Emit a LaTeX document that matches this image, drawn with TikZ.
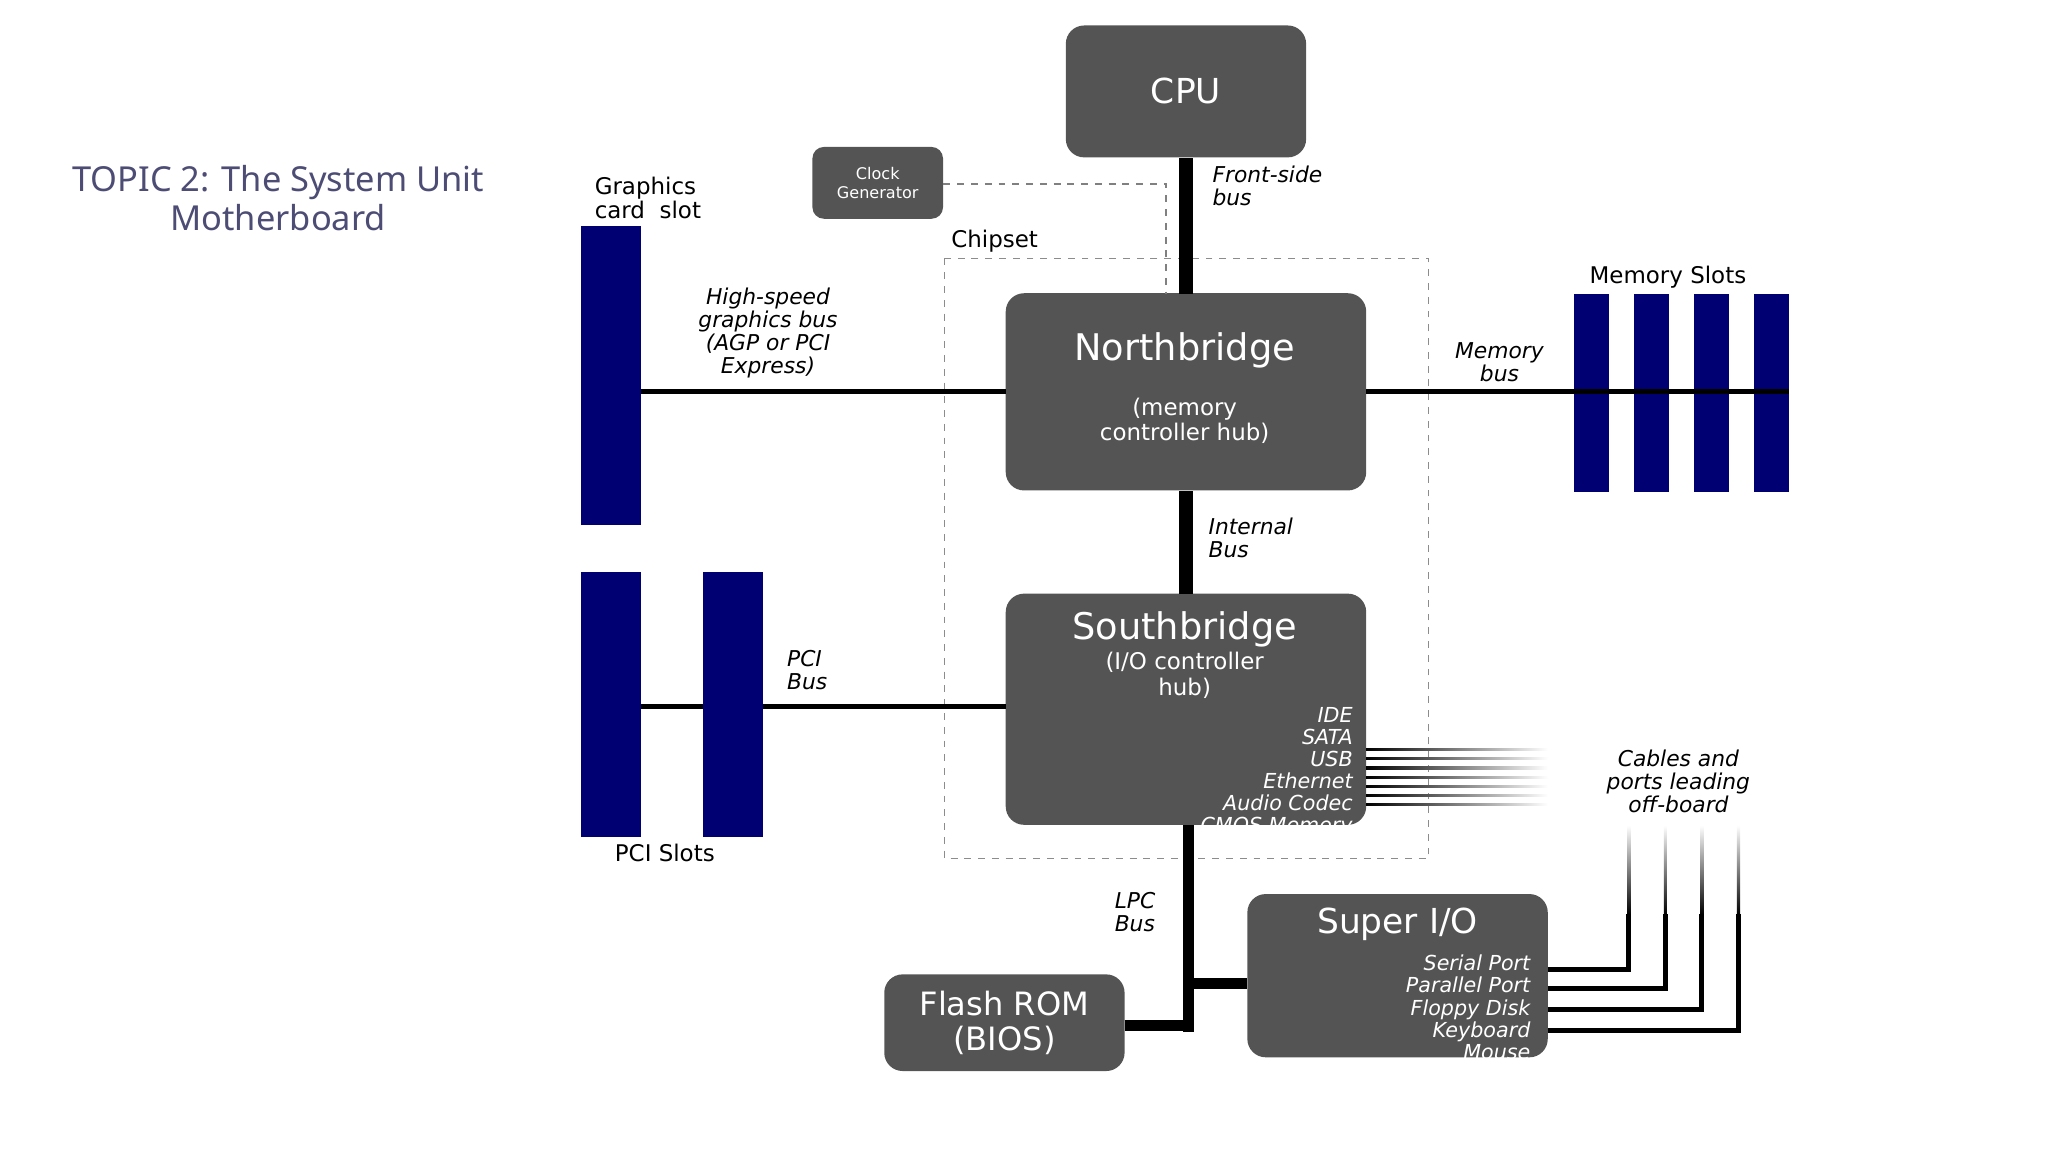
\documentclass[tikz,border=0pt]{standalone}
\usepackage{fontspec}
\usetikzlibrary{fadings}
\setmainfont{DejaVu Sans}
\newfontfamily\titlefont{Noto Sans}
\begin{document}
\begin{tikzpicture}[x=0.02cm,y=-0.02cm,
  box/.style={fill=black!67,rounded corners=8pt,draw=none,text=white,align=center},
  slot/.style={fill=blue!45!black,draw=none},
  bus/.style={line width=6pt},
  thin bus/.style={line width=2.2pt},
  lab/.style={font=\fontsize{9.5}{10}\selectfont\itshape,align=left,inner sep=0pt},
  list/.style={font=\fontsize{9}{9.6}\selectfont\itshape,align=right,inner sep=0pt,text=white},
  cable/.style={line width=1.6pt,black!85}]
\useasboundingbox (0,0) rectangle (1568,882);
\node[font=\titlefont\fontsize{15}{17}\selectfont,text=black!60!blue!40!gray,align=center] (title) at (213,152) {TOPIC 2: The System Unit\\Motherboard};
% boxes
\node[box,minimum width=184*0.02cm,minimum height=101*0.02cm,font=\fontsize{15}{16}\selectfont] (cpu) at (908,70) {CPU};
\node[box,minimum width=100*0.02cm,minimum height=55*0.02cm,rounded corners=5pt,font=\fontsize{7}{8}\selectfont,inner sep=1pt] (clk) at (672,140) {Clock\\Generator};
\node[box,minimum width=276*0.02cm,minimum height=151*0.02cm] (nb) at (908,300) {};
\node[text=white,font=\fontsize{16}{17}\selectfont] (nbt) at (907,268) {Northbridge};
\node[text=white,font=\fontsize{10}{11}\selectfont,align=center] (nbs) at (907,322) {(memory\\controller hub)};
\node[box,minimum width=276*0.02cm,minimum height=177*0.02cm] (sb) at (908,543) {};
\node[text=white,font=\fontsize{16}{17}\selectfont] (sbt) at (907,482) {Southbridge};
\node[text=white,font=\fontsize{10}{11}\selectfont,align=center] (sbs) at (907,517) {(I/O controller\\hub)};
\node[list,anchor=north east] (sbl) at (1036,541) {IDE\\SATA\\USB\\Ethernet\\Audio Codec\\CMOS Memory};
\node[box,minimum width=184*0.02cm,minimum height=74*0.02cm,font=\fontsize{14}{15}\selectfont] (flash) at (769,783) {Flash ROM\\(BIOS)};
\node[box,minimum width=230*0.02cm,minimum height=125*0.02cm] (sio) at (1070,747) {};
\node[text=white,font=\fontsize{15}{16}\selectfont] (siot) at (1070,708) {Super I/O};
\node[list,anchor=north east] (siol) at (1172,731) {Serial Port\\Parallel Port\\Floppy Disk\\Keyboard\\Mouse};
% chipset
\draw[dashed,black!45] (723,198) rectangle (1094,657);
\node[anchor=west,font=\fontsize{10}{11}\selectfont,inner sep=0pt] (chip) at (728,185) {Chipset};
\draw[dashed,black!50,line width=0.8pt] (clk.east |- 0,141) -- (893,141) -- (893,225);
% buses
\draw[bus] (908,121) -- (908,225);
\node[lab,anchor=north west] (fsb) at (928,127) {Front-side\\bus};
\draw[bus] (908,376) -- (908,455);
\node[lab,anchor=north west] (ib) at (925,396) {Internal\\Bus};
% graphics
\fill[slot] (445,173) rectangle (491,402);
\node[anchor=north west,font=\fontsize{10}{10.5}\selectfont,inner sep=0pt,align=left] (gl) at (455,135) {Graphics\\card\ \ slot};
\draw[thin bus] (491,300) -- (770,300);
\node[lab,align=center] (hsg) at (588,255) {High-speed\\graphics bus\\(AGP or PCI\\Express)};
% memory
\draw[thin bus] (1046,300) -- (1370,300);
\foreach \x in {1205,1251,1297,1343} \fill[slot] (\x,225) rectangle (\x+27,377);
\draw[thin bus] (1205,300) -- (1370,300);
\node[font=\fontsize{10}{11}\selectfont] (ms) at (1277,212) {Memory Slots};
\node[lab,align=center] (mb) at (1148,277) {Memory\\bus};
% PCI
\draw[thin bus] (445,541) -- (770,541);
\fill[slot] (445,438) rectangle (491,641);
\fill[slot] (538,438) rectangle (584,641);
\node[lab,align=left] (pcib) at (618,513) {PCI\\Bus};
\node[font=\fontsize{10}{11}\selectfont] (pcis) at (509,653) {PCI Slots};
% cables
\foreach \y in {574,581,588,595,602,609,616}
  \shade[left color=black,right color=white] (1046,\y-0.8) rectangle (1185,\y+0.8);
\node[lab,align=center] (cab) at (1285,598) {Cables and\\ports leading\\off-board};
% LPC
\draw[line width=5pt] (910,632) -- (910,790);
\draw[line width=5pt] (861,785) -- (912.5,785);
\draw[line width=5pt] (910,753) -- (955,753);
\node[lab,align=left] (lpc) at (869,698) {LPC\\Bus};
% super io cables
\foreach \y/\x in {742/1247,757/1275,773/1303,789/1331}
  \draw[line width=2.2pt] (1185,\y) -- (\x,\y) -- (\x,700);
\foreach \x in {1247,1275,1303,1331}
  \shade[top color=white,bottom color=black] (\x-1.2,632) rectangle (\x+1.2,700);
\end{tikzpicture}
\end{document}
